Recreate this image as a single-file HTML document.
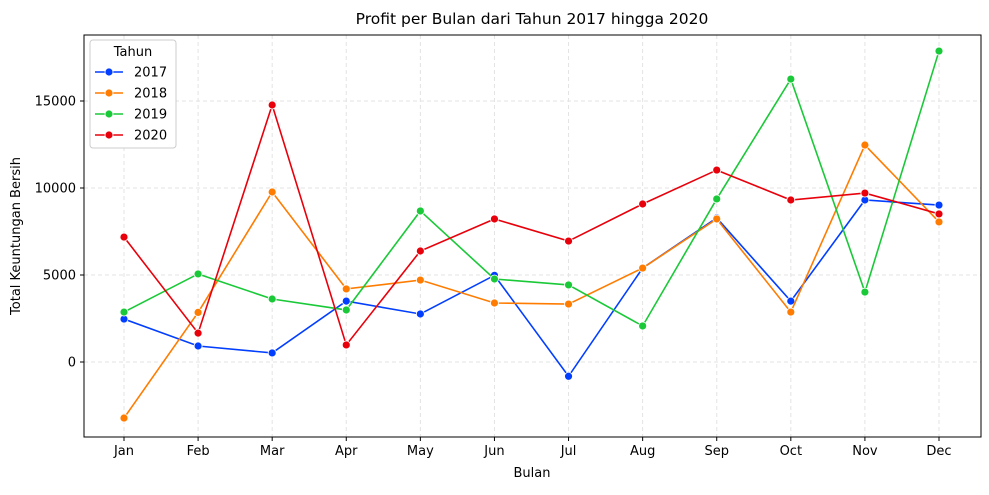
<!DOCTYPE html>
<html><head><meta charset="utf-8"><style>
body{margin:0;background:#fff;font-family:"Liberation Sans","DejaVu Sans",sans-serif;}
svg text{font-family:"DejaVu Sans","Liberation Sans",sans-serif;}
</style></head><body>
<svg id="chart" width="989" height="490"></svg>
<script>
const months=["Jan","Feb","Mar","Apr","May","Jun","Jul","Aug","Sep","Oct","Nov","Dec"];
const years=["2017","2018","2019","2020"];
const s2017=[2470,920,520,3500,2760,4980,-820,5400,8280,3500,9310,9020];
const s2018=[-3220,2850,9770,4200,4710,3390,3330,5400,8220,2870,12470,8050];
const s2019=[2870,5060,3620,2990,8680,4770,4430,2070,9370,16260,4020,17870];
const s2020=[7180,1660,14770,980,6380,8220,6950,9080,11030,9310,9710,8510];
const yTicks=[0,5000,10000,15000];
const colors=["#023eff","#ff7c00","#1ac938","#e8000b"];
const series=[s2017,s2018,s2019,s2020];
const L=84,R=981,T=35,B=437;
const x=i=>124+i*(939-124)/11;
const y=v=>362-v*87/5000;
const svg=document.getElementById('chart');const NS="http://www.w3.org/2000/svg";
function el(t,a,p){const e=document.createElementNS(NS,t);for(const k in a)e.setAttribute(k,a[k]);(p||svg).appendChild(e);return e;}
// grid
months.forEach((m,i)=>{const g=el('line',{x1:x(i),x2:x(i),y1:T,y2:B,stroke:'#e3e3e3','stroke-dasharray':'4,3'});
});
yTicks.forEach(v=>{const g=el('line',{x1:L,x2:R,y1:y(v),y2:y(v),stroke:'#e3e3e3','stroke-dasharray':'4,3'});
});
const fr=el('rect',{x:L,y:T,width:R-L,height:B-T,fill:'none',stroke:'#000','stroke-width':1});

months.forEach((m,i)=>{el('line',{x1:x(i),x2:x(i),y1:B,y2:B+4,stroke:'#000'});
const t=el('text',{x:x(i),y:B+18,'text-anchor':'middle','font-size':13});t.textContent=m;
});
yTicks.forEach(v=>{el('line',{x1:L-4,x2:L,y1:y(v),y2:y(v),stroke:'#000'});
const t=el('text',{x:L-8,y:y(v)+4.5,'text-anchor':'end','font-size':13});t.textContent=v;
});
series.forEach((s,k)=>{
const p=el('polyline',{points:s.map((v,i)=>x(i)+','+y(v)).join(' '),fill:'none',stroke:colors[k],'stroke-width':1.6});

s.forEach((v,i)=>{const c=el('circle',{cx:x(i),cy:y(v),r:4,fill:colors[k],stroke:'#fff','stroke-width':0.8});
});});
let t=el('text',{x:532,y:24,'text-anchor':'middle','font-size':15.5});t.textContent='Profit per Bulan dari Tahun 2017 hingga 2020';

t=el('text',{x:532,y:477,'text-anchor':'middle','font-size':13});t.textContent='Bulan';

t=el('text',{x:0,y:0,'text-anchor':'middle','font-size':13,transform:'translate(20,236) rotate(-90)'});t.textContent='Total Keuntungan Bersih';

const lg=el('rect',{x:90,y:40,width:86,height:108,fill:'#fff',stroke:'#ccc',rx:3});

t=el('text',{x:133,y:56,'text-anchor':'middle','font-size':13});t.textContent='Tahun';

years.forEach((yr,k)=>{const yy=72+k*21;
el('line',{x1:95,x2:123,y1:yy,y2:yy,stroke:colors[k],'stroke-width':1.6});
el('circle',{cx:109,cy:yy,r:4,fill:colors[k],stroke:'#fff','stroke-width':0.8});
const tt=el('text',{x:134,y:yy+4.5,'font-size':13});tt.textContent=yr;
});
</script>
</body></html>
